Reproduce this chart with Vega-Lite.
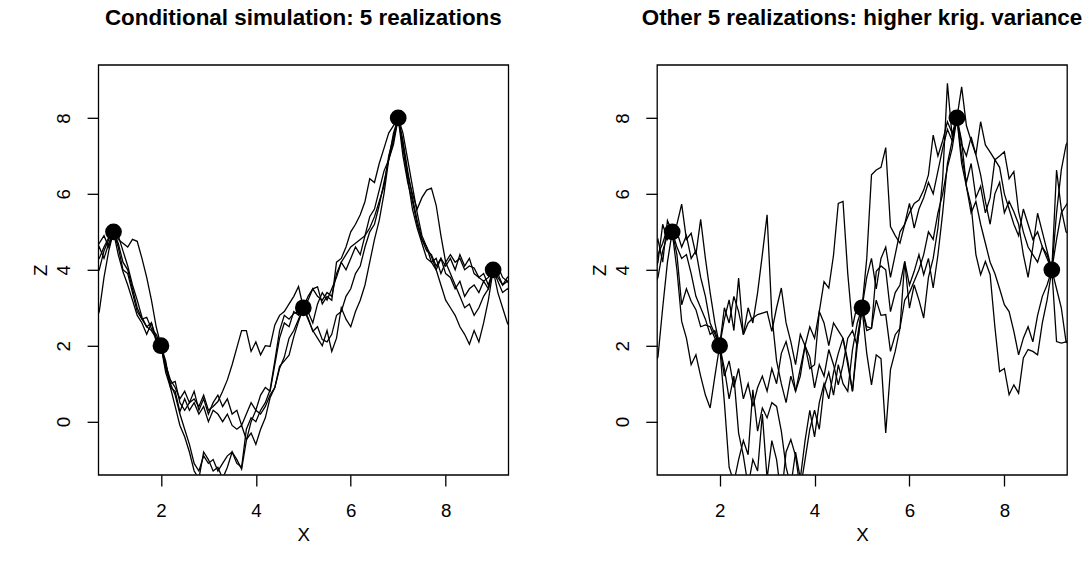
{
"$schema": "https://vega.github.io/schema/vega-lite/v6.json",
"autosize": {"type": "none"},
"padding": {"left": 98.3, "top": 64.8, "right": 988.7, "bottom": 499.2},
"background": "white",
"bounds": "flush",
"spacing": 148.7,
"config": {
  "view": {"stroke": "black", "strokeWidth": 1.3},
  "font": "Liberation Sans",
  "axis": {"grid": false, "domain": false, "ticks": true, "tickSize": 11.2, "tickColor": "black", "tickWidth": 1.3,
    "labelFont": "Liberation Sans", "labelFontSize": 18.7, "labelColor": "black", "labelFlush": false, "labelOverlap": false,
    "titleFont": "Liberation Sans", "titleFontSize": 18.7, "titleFontWeight": "normal", "titleColor": "black"},
  "title": {"font": "Liberation Sans", "fontSize": 22.4, "fontWeight": "bold", "color": "black", "anchor": "middle", "frame": "group", "baseline": "alphabetic", "offset": 35}
},
"datasets": {
"left": [
{"x":0.6,"a":4.5,"b":3.8,"c":2.6,"d":4.2,"e":4.4},
{"x":0.7,"a":4.7,"b":4.0,"c":2.9,"d":4.3,"e":4.6},
{"x":0.8,"a":4.9,"b":4.5,"c":3.8,"d":4.6,"e":4.3},
{"x":0.9,"a":4.6,"b":4.8,"c":4.5,"d":4.85,"e":4.7},
{"x":1.0,"a":5,"b":5,"c":5,"d":5,"e":5},
{"x":1.1,"a":4.8,"b":4.6,"c":4.4,"d":4.7,"e":4.9},
{"x":1.2,"a":4.7,"b":4.0,"c":3.95,"d":4.2,"e":4.5},
{"x":1.3,"a":4.6,"b":3.9,"c":3.6,"d":4.0,"e":4.1},
{"x":1.4,"a":4.8,"b":3.4,"c":3.2,"d":3.5,"e":3.6},
{"x":1.5,"a":4.75,"b":2.9,"c":2.8,"d":3.0,"e":3.2},
{"x":1.6,"a":4.3,"b":2.7,"c":2.6,"d":2.7,"e":2.75},
{"x":1.7,"a":3.8,"b":2.5,"c":2.3,"d":2.75,"e":2.5},
{"x":1.8,"a":3.2,"b":2.4,"c":2.6,"d":2.45,"e":2.6},
{"x":1.9,"a":2.5,"b":2.2,"c":2.1,"d":2.3,"e":2.2},
{"x":2.0,"a":2,"b":2,"c":2,"d":2,"e":2},
{"x":2.1,"a":1.5,"b":1.5,"c":1.3,"d":1.4,"e":1.6},
{"x":2.2,"a":1.1,"b":1.0,"c":0.9,"d":1.0,"e":0.9},
{"x":2.3,"a":0.9,"b":0.7,"c":0.4,"d":1.06,"e":0.8},
{"x":2.4,"a":0.6,"b":0.2,"c":-0.1,"d":0.5,"e":0.26},
{"x":2.5,"a":0.8,"b":-0.2,"c":-0.4,"d":0.3,"e":0.6},
{"x":2.6,"a":0.5,"b":-0.6,"c":-0.8,"d":0.5,"e":0.3},
{"x":2.7,"a":0.8,"b":-1.1,"c":-1.3,"d":0.6,"e":0.5},
{"x":2.8,"a":0.3,"b":-1.3,"c":-1.5,"d":0.4,"e":0.2},
{"x":2.9,"a":0.6,"b":-0.9,"c":-0.8,"d":0.7,"e":0.4},
{"x":3.0,"a":0.2,"b":-1.1,"c":-1.0,"d":0.3,"e":0.0},
{"x":3.1,"a":0.5,"b":-1.0,"c":-1.3,"d":0.4,"e":0.3},
{"x":3.2,"a":0.7,"b":-1.3,"c":-1.2,"d":0.53,"e":0.2},
{"x":3.3,"a":0.4,"b":-1.1,"c":-1.5,"d":0.8,"e":0.0},
{"x":3.4,"a":0.6,"b":-0.9,"c":-1.2,"d":1.1,"e":0.2},
{"x":3.5,"a":0.2,"b":-0.8,"c":-0.8,"d":1.5,"e":-0.1},
{"x":3.6,"a":0.3,"b":-1.0,"c":-1.1,"d":1.95,"e":-0.2},
{"x":3.7,"a":-0.1,"b":-1.25,"c":-1.2,"d":2.4,"e":-0.1},
{"x":3.8,"a":0.2,"b":-0.5,"c":-0.2,"d":2.4,"e":-0.47},
{"x":3.9,"a":0.5,"b":0.0,"c":0.1,"d":1.85,"e":-0.3},
{"x":4.0,"a":0.3,"b":0.3,"c":0.0,"d":2.1,"e":-0.6},
{"x":4.1,"a":0.7,"b":0.2,"c":0.3,"d":1.76,"e":-0.2},
{"x":4.2,"a":0.9,"b":0.4,"c":0.5,"d":2.0,"e":0.1},
{"x":4.3,"a":0.8,"b":0.7,"c":0.84,"d":1.98,"e":0.63},
{"x":4.4,"a":1.5,"b":0.9,"c":1.6,"d":2.55,"e":0.9},
{"x":4.5,"a":2.2,"b":1.4,"c":2.4,"d":2.8,"e":1.46},
{"x":4.6,"a":2.6,"b":1.7,"c":2.8,"d":2.9,"e":1.6},
{"x":4.7,"a":2.5,"b":2.2,"c":2.7,"d":3.1,"e":1.75},
{"x":4.8,"a":2.9,"b":2.4,"c":2.85,"d":3.3,"e":2.24},
{"x":4.9,"a":2.8,"b":2.7,"c":2.9,"d":3.56,"e":2.64},
{"x":5.0,"a":3,"b":3,"c":3,"d":3,"e":3},
{"x":5.1,"a":2.7,"b":3.2,"c":2.9,"d":3.3,"e":2.74},
{"x":5.2,"a":2.4,"b":3.5,"c":2.6,"d":3.5,"e":2.38},
{"x":5.3,"a":2.2,"b":3.3,"c":3.1,"d":3.55,"e":2.5},
{"x":5.4,"a":2.0,"b":3.2,"c":3.4,"d":3.1,"e":2.16},
{"x":5.5,"a":2.4,"b":3.4,"c":3.2,"d":3.3,"e":2.1},
{"x":5.6,"a":1.85,"b":3.3,"c":3.5,"d":3.2,"e":2.3},
{"x":5.7,"a":2.2,"b":3.9,"c":3.8,"d":4.2,"e":2.8},
{"x":5.8,"a":3.0,"b":4.2,"c":4.2,"d":4.3,"e":2.9},
{"x":5.9,"a":2.7,"b":4.4,"c":4.0,"d":4.6,"e":3.3},
{"x":6.0,"a":2.5,"b":4.6,"c":4.3,"d":5.0,"e":3.5},
{"x":6.1,"a":2.9,"b":4.7,"c":4.6,"d":5.2,"e":3.9},
{"x":6.2,"a":3.2,"b":4.8,"c":4.4,"d":5.45,"e":4.1},
{"x":6.3,"a":3.6,"b":4.9,"c":4.9,"d":5.8,"e":4.6},
{"x":6.4,"a":4.2,"b":5.1,"c":5.4,"d":6.4,"e":5.0},
{"x":6.5,"a":4.8,"b":5.4,"c":5.6,"d":6.3,"e":5.2},
{"x":6.6,"a":5.3,"b":5.8,"c":6.1,"d":6.8,"e":5.7},
{"x":6.7,"a":6.0,"b":6.2,"c":6.6,"d":7.2,"e":6.3},
{"x":6.8,"a":6.9,"b":7.0,"c":6.9,"d":7.6,"e":6.9},
{"x":6.9,"a":7.4,"b":7.5,"c":7.3,"d":7.8,"e":7.6},
{"x":7.0,"a":8,"b":8,"c":8,"d":8,"e":8},
{"x":7.1,"a":7.3,"b":7.4,"c":7.0,"d":7.2,"e":7.6},
{"x":7.2,"a":6.5,"b":6.6,"c":6.3,"d":6.4,"e":6.9},
{"x":7.3,"a":6.0,"b":5.9,"c":5.8,"d":5.6,"e":6.2},
{"x":7.4,"a":5.6,"b":5.3,"c":5.2,"d":5.1,"e":5.5},
{"x":7.5,"a":5.9,"b":4.8,"c":4.8,"d":4.7,"e":4.9},
{"x":7.6,"a":6.1,"b":4.5,"c":4.6,"d":4.3,"e":4.6},
{"x":7.7,"a":6.15,"b":4.4,"c":4.35,"d":4.2,"e":4.2},
{"x":7.8,"a":5.7,"b":4.1,"c":4.0,"d":4.0,"e":4.3},
{"x":7.9,"a":4.9,"b":4.3,"c":3.6,"d":4.3,"e":3.9},
{"x":8.0,"a":4.2,"b":4.1,"c":3.2,"d":3.9,"e":4.2},
{"x":8.1,"a":3.9,"b":4.3,"c":3.0,"d":3.8,"e":4.4},
{"x":8.2,"a":3.6,"b":4.0,"c":2.8,"d":3.5,"e":4.2},
{"x":8.3,"a":3.3,"b":4.4,"c":2.5,"d":3.7,"e":4.3},
{"x":8.4,"a":3.0,"b":4.1,"c":2.3,"d":3.3,"e":4.0},
{"x":8.5,"a":3.1,"b":4.3,"c":2.04,"d":3.5,"e":4.1},
{"x":8.6,"a":2.8,"b":3.9,"c":2.4,"d":3.6,"e":4.05},
{"x":8.7,"a":3.0,"b":3.8,"c":2.1,"d":3.4,"e":3.8},
{"x":8.8,"a":3.3,"b":3.7,"c":2.6,"d":3.7,"e":3.9},
{"x":8.9,"a":3.5,"b":3.8,"c":3.2,"d":3.5,"e":3.6},
{"x":9.0,"a":4,"b":4,"c":4,"d":4,"e":4},
{"x":9.1,"a":3.7,"b":3.8,"c":3.4,"d":3.9,"e":4.1},
{"x":9.2,"a":3.4,"b":3.6,"c":3.0,"d":3.6,"e":3.8},
{"x":9.3,"a":3.5,"b":3.7,"c":2.6,"d":3.8,"e":3.7},
{"x":9.4,"a":3.4,"b":3.6,"c":2.4,"d":3.9,"e":3.5}
],
"right": [
{"x":0.6,"a":4.6,"b":3.5,"c":1.5,"d":4.0,"e":3.9},
{"x":0.7,"a":4.8,"b":3.8,"c":1.7,"d":4.4,"e":4.2},
{"x":0.8,"a":4.2,"b":4.5,"c":3.0,"d":4.7,"e":5.2},
{"x":0.9,"a":5.3,"b":4.9,"c":4.2,"d":5.1,"e":4.8},
{"x":1.0,"a":5,"b":5,"c":5,"d":5,"e":5},
{"x":1.1,"a":5.2,"b":4.4,"c":4.0,"d":5.0,"e":4.6},
{"x":1.2,"a":5.73,"b":3.08,"c":2.64,"d":4.6,"e":4.3},
{"x":1.3,"a":4.8,"b":3.5,"c":2.2,"d":4.9,"e":4.4},
{"x":1.4,"a":4.96,"b":3.17,"c":1.5,"d":4.3,"e":3.9},
{"x":1.5,"a":4.4,"b":2.95,"c":1.76,"d":4.5,"e":3.3},
{"x":1.6,"a":5.33,"b":2.5,"c":1.2,"d":3.8,"e":3.0},
{"x":1.7,"a":4.3,"b":2.55,"c":0.7,"d":3.3,"e":2.7},
{"x":1.8,"a":3.4,"b":2.5,"c":0.36,"d":2.6,"e":2.3},
{"x":1.9,"a":2.6,"b":2.2,"c":1.2,"d":2.3,"e":2.4},
{"x":2.0,"a":2,"b":2,"c":2,"d":2,"e":2},
{"x":2.1,"a":2.7,"b":3.0,"c":0.5,"d":1.4,"e":1.2},
{"x":2.2,"a":3.21,"b":2.6,"c":-1.2,"d":0.6,"e":1.6},
{"x":2.3,"a":2.4,"b":3.3,"c":-1.6,"d":1.2,"e":0.9},
{"x":2.4,"a":3.78,"b":2.9,"c":-1.0,"d":-0.3,"e":1.4},
{"x":2.5,"a":2.29,"b":2.3,"c":-0.5,"d":-0.9,"e":0.6},
{"x":2.6,"a":2.6,"b":3.0,"c":-0.87,"d":-1.7,"e":1.0},
{"x":2.7,"a":2.73,"b":2.6,"c":0.84,"d":-1.0,"e":0.4},
{"x":2.8,"a":2.82,"b":3.4,"c":-0.25,"d":-1.3,"e":0.9},
{"x":2.9,"a":2.86,"b":4.4,"c":0.36,"d":0.2,"e":1.2},
{"x":3.0,"a":2.9,"b":5.45,"c":0.1,"d":-1.5,"e":0.8},
{"x":3.1,"a":2.38,"b":2.8,"c":0.5,"d":-0.5,"e":1.4},
{"x":3.2,"a":3.0,"b":1.6,"c":0.4,"d":-1.0,"e":1.0},
{"x":3.3,"a":3.52,"b":1.0,"c":-0.25,"d":-2.0,"e":1.8},
{"x":3.4,"a":2.6,"b":0.5,"c":-1.2,"d":-0.8,"e":2.11},
{"x":3.5,"a":2.11,"b":1.2,"c":-1.7,"d":-0.47,"e":1.6},
{"x":3.6,"a":1.5,"b":0.8,"c":-0.8,"d":-0.9,"e":0.8},
{"x":3.7,"a":2.3,"b":1.4,"c":-1.5,"d":-1.8,"e":1.2},
{"x":3.8,"a":2.0,"b":2.0,"c":-0.5,"d":-1.0,"e":2.0},
{"x":3.9,"a":1.4,"b":1.7,"c":0.3,"d":-0.2,"e":2.5},
{"x":4.0,"a":1.5,"b":0.89,"c":-0.4,"d":0.3,"e":2.2},
{"x":4.1,"a":2.9,"b":1.5,"c":0.5,"d":-0.2,"e":2.9},
{"x":4.2,"a":3.69,"b":1.2,"c":1.0,"d":0.9,"e":2.6},
{"x":4.3,"a":3.52,"b":1.9,"c":0.6,"d":1.3,"e":2.0},
{"x":4.4,"a":4.39,"b":1.5,"c":1.3,"d":0.7,"e":2.6},
{"x":4.5,"a":5.75,"b":0.97,"c":1.8,"d":1.5,"e":2.4},
{"x":4.6,"a":5.8,"b":1.5,"c":2.2,"d":1.0,"e":2.2},
{"x":4.7,"a":3.9,"b":2.2,"c":1.5,"d":0.8,"e":1.6},
{"x":4.8,"a":2.5,"b":2.4,"c":0.8,"d":1.9,"e":0.8},
{"x":4.9,"a":3.08,"b":2.0,"c":2.2,"d":2.6,"e":2.0},
{"x":5.0,"a":3,"b":3,"c":3,"d":3,"e":3},
{"x":5.1,"a":4.3,"b":2.4,"c":1.8,"d":2.5,"e":3.8},
{"x":5.2,"a":6.5,"b":2.46,"c":0.97,"d":2.46,"e":4.3},
{"x":5.3,"a":6.63,"b":3.96,"c":1.76,"d":3.2,"e":3.5},
{"x":5.4,"a":6.7,"b":4.1,"c":1.66,"d":2.8,"e":4.3},
{"x":5.5,"a":7.22,"b":4.0,"c":-0.3,"d":2.82,"e":4.6},
{"x":5.6,"a":5.14,"b":2.9,"c":1.37,"d":1.85,"e":3.8},
{"x":5.7,"a":4.9,"b":3.4,"c":1.85,"d":2.29,"e":4.4},
{"x":5.8,"a":4.7,"b":3.6,"c":2.46,"d":2.46,"e":5.0},
{"x":5.9,"a":5.2,"b":4.22,"c":4.22,"d":3.2,"e":5.2},
{"x":6.0,"a":5.5,"b":3.6,"c":2.99,"d":3.4,"e":5.75},
{"x":6.1,"a":5.75,"b":3.96,"c":3.6,"d":3.7,"e":5.1},
{"x":6.2,"a":5.84,"b":4.4,"c":3.2,"d":4.0,"e":5.6},
{"x":6.3,"a":6.1,"b":3.87,"c":2.73,"d":4.4,"e":5.9},
{"x":6.4,"a":6.5,"b":4.3,"c":3.8,"d":5.0,"e":6.3},
{"x":6.5,"a":7.55,"b":3.52,"c":4.3,"d":4.8,"e":6.0},
{"x":6.6,"a":7.0,"b":4.39,"c":5.1,"d":5.5,"e":6.6},
{"x":6.7,"a":7.4,"b":5.5,"c":6.4,"d":6.0,"e":7.2},
{"x":6.8,"a":7.9,"b":6.8,"c":8.91,"d":6.7,"e":7.7},
{"x":6.9,"a":7.6,"b":7.4,"c":7.5,"d":7.2,"e":7.4},
{"x":7.0,"a":8,"b":8,"c":8,"d":8,"e":8},
{"x":7.1,"a":7.3,"b":8.82,"c":6.8,"d":7.4,"e":7.0},
{"x":7.2,"a":7.0,"b":7.8,"c":6.2,"d":6.2,"e":6.3},
{"x":7.3,"a":7.5,"b":7.4,"c":5.7,"d":5.5,"e":6.8},
{"x":7.4,"a":7.03,"b":7.03,"c":4.4,"d":5.8,"e":5.9},
{"x":7.5,"a":7.9,"b":6.5,"c":3.87,"d":5.2,"e":6.2},
{"x":7.6,"a":7.29,"b":5.8,"c":4.22,"d":4.7,"e":5.5},
{"x":7.7,"a":7.1,"b":5.2,"c":3.87,"d":4.2,"e":5.9},
{"x":7.8,"a":6.9,"b":6.0,"c":2.5,"d":3.9,"e":6.9},
{"x":7.9,"a":7.0,"b":6.3,"c":1.32,"d":3.5,"e":6.7},
{"x":8.0,"a":7.11,"b":5.5,"c":1.4,"d":3.08,"e":6.0},
{"x":8.1,"a":6.4,"b":5.8,"c":0.71,"d":2.9,"e":5.6},
{"x":8.2,"a":6.59,"b":5.53,"c":0.97,"d":2.38,"e":5.2},
{"x":8.3,"a":5.53,"b":5.2,"c":0.75,"d":1.76,"e":4.9},
{"x":8.4,"a":5.0,"b":4.4,"c":1.68,"d":2.2,"e":5.6},
{"x":8.5,"a":4.6,"b":3.8,"c":1.9,"d":2.5,"e":5.2},
{"x":8.6,"a":4.4,"b":4.6,"c":1.85,"d":2.1,"e":4.8},
{"x":8.7,"a":4.2,"b":5.49,"c":1.76,"d":2.8,"e":5.0},
{"x":8.8,"a":4.6,"b":5.0,"c":2.6,"d":3.3,"e":4.6},
{"x":8.9,"a":4.3,"b":4.5,"c":3.2,"d":3.6,"e":4.4},
{"x":9.0,"a":4,"b":4,"c":4,"d":4,"e":4},
{"x":9.1,"a":5.5,"b":4.8,"c":2.11,"d":3.5,"e":6.63},
{"x":9.2,"a":6.63,"b":5.5,"c":2.07,"d":3.0,"e":5.6},
{"x":9.3,"a":7.29,"b":5.7,"c":2.1,"d":2.1,"e":5.0},
{"x":9.4,"a":7.5,"b":5.9,"c":2.2,"d":2.0,"e":4.9}
],
"pts": [
{"x":1,"z":5},{"x":2,"z":2},{"x":5,"z":3},{"x":7,"z":8},{"x":9,"z":4}
]
},
"hconcat": [
{
 "title": {"text": "Conditional simulation: 5 realizations"},
 "width": 410, "height": 410,
 "layer": [
  {"data": {"name": "left"},
   "transform": [{"fold": ["a","b","c","d","e"], "as": ["sim","z"]}],
   "mark": {"type": "line", "color": "black", "strokeWidth": 1.3, "clip": true},
   "encoding": {
     "x": {"field": "x", "type": "quantitative", "scale": {"domain": [0.68, 9.32], "nice": false, "zero": false},
           "axis": {"values": [2,4,6,8], "format": "d", "title": "X", "labelBaseline": "alphabetic", "labelPadding": 30.5,
                    "titleX": 205, "titleY": 65.7, "titleAlign": "center", "titleBaseline": "alphabetic", "titleAngle": 0}},
     "y": {"field": "z", "type": "quantitative", "scale": {"domain": [-1.4, 9.4], "nice": false, "zero": false},
           "axis": {"values": [0,2,4,6,8], "format": "d", "title": "Z", "labelAngle": -90, "labelAlign": "center", "labelBaseline": "alphabetic", "labelPadding": 17.4,
                    "titleX": -51.6, "titleY": 205, "titleAlign": "center", "titleBaseline": "alphabetic", "titleAngle": -90}},
     "detail": {"field": "sim", "type": "nominal"}
   }},
  {"data": {"name": "pts"},
   "mark": {"type": "point", "filled": true, "color": "black", "size": 280, "opacity": 1},
   "encoding": {
     "x": {"field": "x", "type": "quantitative"},
     "y": {"field": "z", "type": "quantitative"}
   }}
 ]
},
{
 "title": {"text": "Other 5 realizations: higher krig. variance"},
 "width": 410, "height": 410,
 "layer": [
  {"data": {"name": "right"},
   "transform": [{"fold": ["a","b","c","d","e"], "as": ["sim","z"]}],
   "mark": {"type": "line", "color": "black", "strokeWidth": 1.3, "clip": true},
   "encoding": {
     "x": {"field": "x", "type": "quantitative", "scale": {"domain": [0.68, 9.32], "nice": false, "zero": false},
           "axis": {"values": [2,4,6,8], "format": "d", "title": "X", "labelBaseline": "alphabetic", "labelPadding": 30.5,
                    "titleX": 205, "titleY": 65.7, "titleAlign": "center", "titleBaseline": "alphabetic", "titleAngle": 0}},
     "y": {"field": "z", "type": "quantitative", "scale": {"domain": [-1.4, 9.4], "nice": false, "zero": false},
           "axis": {"values": [0,2,4,6,8], "format": "d", "title": "Z", "labelAngle": -90, "labelAlign": "center", "labelBaseline": "alphabetic", "labelPadding": 17.4,
                    "titleX": -51.6, "titleY": 205, "titleAlign": "center", "titleBaseline": "alphabetic", "titleAngle": -90}},
     "detail": {"field": "sim", "type": "nominal"}
   }},
  {"data": {"name": "pts"},
   "mark": {"type": "point", "filled": true, "color": "black", "size": 280, "opacity": 1},
   "encoding": {
     "x": {"field": "x", "type": "quantitative"},
     "y": {"field": "z", "type": "quantitative"}
   }}
 ]
}
]
}
